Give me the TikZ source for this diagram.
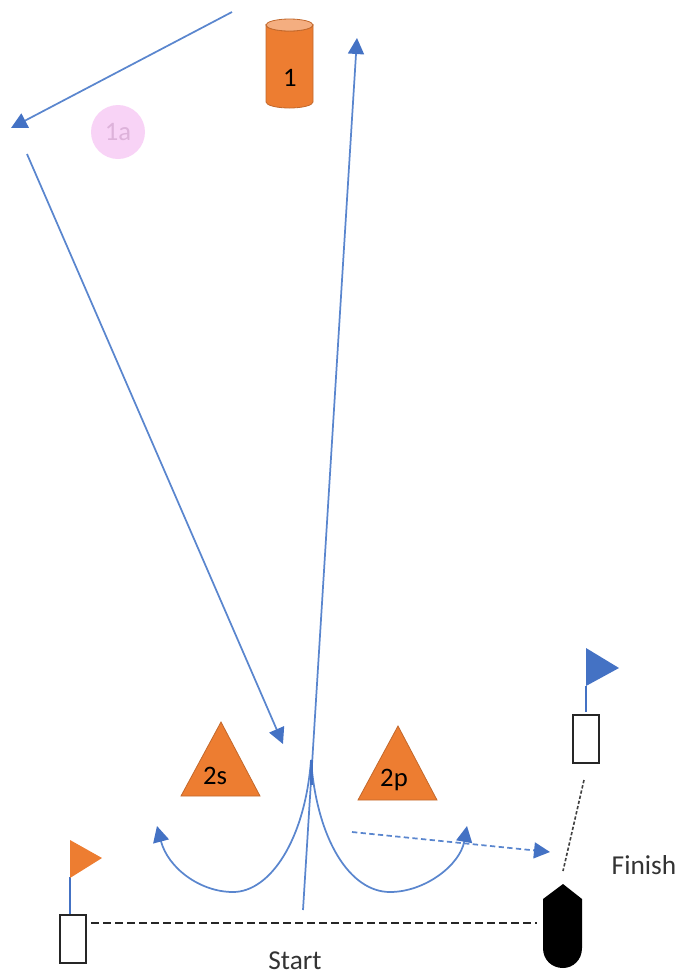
\documentclass[tikz,border=0pt]{standalone}
\usepackage{fontspec}
\setmainfont{Carlito}
\usetikzlibrary{arrows.meta}
\definecolor{bl}{HTML}{4472C4}
\definecolor{blr}{HTML}{5A86CE}
\definecolor{org}{HTML}{ED7D31}
\definecolor{orgd}{HTML}{C2682C}
\definecolor{orgl}{HTML}{F4AE80}
\definecolor{pinkf}{HTML}{F8D3F6}
\definecolor{pinkt}{HTML}{DDB2DA}
\tikzset{
  x=0.75pt,y=-0.75pt,
  route/.style={draw=blr,line width=1.3pt,-{Triangle[length=12pt,width=12pt,color=bl]}},
  routed/.style={route,dash pattern=on 4pt off 2.5pt},
  pole/.style={draw=bl,line width=1.1pt},
  gatebox/.style={draw=black!85,line width=1pt,fill=white},
  mark shape/.style={fill=org,draw=orgd,line width=0.6pt},
  lbl/.style={font=\fontsize{20.5pt}{23pt}\selectfont,text=black!80,inner sep=0pt},
  tag/.style={font=\fontsize{20pt}{23pt}\selectfont,text=black,inner sep=0pt},
}
\begin{document}
\begin{tikzpicture}
\useasboundingbox (0,0) rectangle (680,976);
% free route points
\coordinate (r1a) at (232,12);
\coordinate (r1b) at (11,128);
\coordinate (r2a) at (27,154);
\coordinate (r2b) at (283,744);
\coordinate (s) at (303,910);
\coordinate (top) at (357,38);
\coordinate (fork) at (311,760);
\coordinate (la) at (157,826);
\coordinate (ra) at (467,826);
\coordinate (d1) at (352,832);
\coordinate (d2) at (550,852);
% mark 1a
\node[circle,fill=pinkf,draw=none,minimum size=40.5pt,inner sep=0pt,text=pinkt,font=\fontsize{20pt}{23pt}\selectfont] (m1a) at (118,132) {1a};
% cylinder
\path[mark shape] (266,25) -- (266,102) arc[start angle=180,end angle=0,x radius=23.5,y radius=6] -- (313,25) arc[start angle=0,end angle=180,x radius=23.5,y radius=6] -- cycle;
\path[fill=orgl,draw=orgd,line width=0.6pt] (289.5,25) ellipse[x radius=23.5,y radius=6];
\node[tag] (m1) at (290,78) {1};
% triangles
\path[mark shape] (221,722) -- (260,796) -- (181,796) -- cycle;
\node[tag] (m2s) at (215,776) {2s};
\path[mark shape] (398,726) -- (437,800) -- (358,800) -- cycle;
\node[tag] (m2p) at (394,780) {2p};
% routes
\draw[route] (r1a) -- (r1b);
\draw[route] (r2a) -- (r2b);
\draw[route] (s) -- (top);
\draw[route] (fork) .. controls (305,840) and (270,892) .. (233,892) .. controls (200,892) and (168,868) .. (la);
\draw[route] (fork) .. controls (317,840) and (350,892) .. (390,892) .. controls (425,892) and (460,865) .. (ra);
\draw[draw=bl,line width=2pt] (311.5,760) -- (311.5,785);
\draw[routed] (d1) -- (d2);
% start gate
\node[gatebox,minimum width=19.5pt,minimum height=36pt,inner sep=0pt] (gl) at (73,939) {};
\coordinate (gltop) at (70,914);
\draw[pole] (gltop) -- (70,877);
\path[fill=org] (70,840) -- (102,858) -- (70,878) -- cycle;
% finish gate
\node[gatebox,minimum width=19.5pt,minimum height=36pt,inner sep=0pt] (gr) at (586,739) {};
\coordinate (grtop) at (586,712);
\draw[pole] (grtop) -- (586,686);
\path[fill=bl] (586,648) -- (619,668) -- (586,686) -- cycle;
% boat
\path[fill=black] (543,899) -- (563,884) -- (582,899) -- (582,948) .. controls (582,960) and (573,968) .. (563,968) .. controls (552,968) and (543,960) .. (543,948) -- cycle;
\coordinate (boat) at (537,923);
% lines
\draw[black!85,line width=1pt,dash pattern=on 6pt off 3pt] (91,923) -- (boat);
\coordinate (fa) at (584,780);
\coordinate (fb) at (563,871);
\draw[black!75,line width=1.2pt,dash pattern=on 2.5pt off 1.5pt] (fa) -- (fb);
% labels
\node[lbl] (start) at (295,961) {Start};
\node[lbl] (finish) at (644,865) {Finish};
\end{tikzpicture}
\end{document}
